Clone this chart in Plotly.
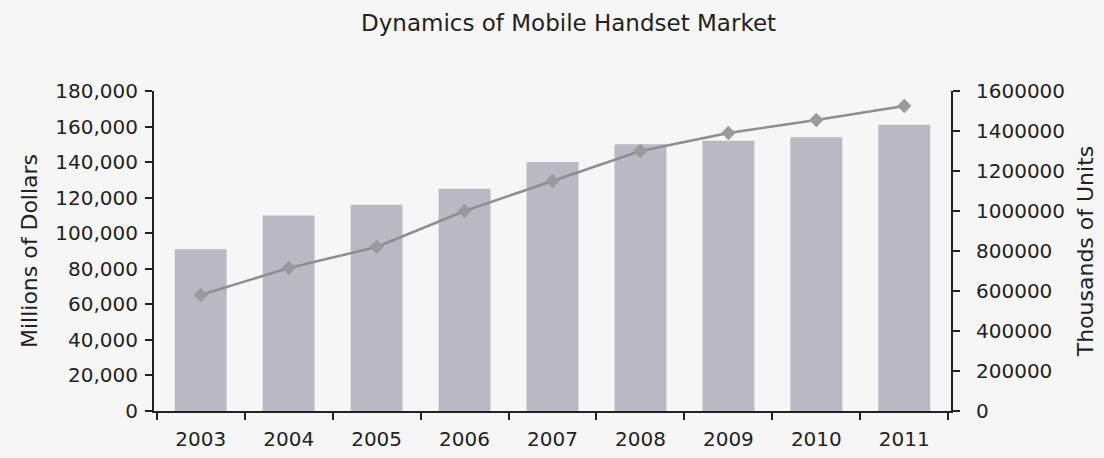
import plotly.graph_objects as go

# Mobile handset market, 2003-2011
years = ["2003", "2004", "2005", "2006", "2007", "2008", "2009", "2010", "2011"]
revenue_musd = [91000, 110000, 116000, 125000, 140000, 150000, 152000, 154000, 161000]
units_thousands = [580000, 715000, 820000, 1000000, 1150000, 1300000, 1390000, 1455000, 1525000]

FONT = "DejaVu Sans"
INK = "#222222"

fig = go.Figure()

fig.add_trace(go.Bar(
    x=years,
    y=revenue_musd,
    name="Revenue",
    marker=dict(color="#bab9c3", line=dict(width=0)),
    yaxis="y",
))

fig.add_trace(go.Scatter(
    x=years,
    y=units_thousands,
    name="Units",
    mode="lines+markers",
    line=dict(color="#8e8e8e", width=2.5),
    marker=dict(symbol="diamond", size=11, color="#9a9a9a"),
    yaxis="y2",
))

fig.update_layout(
    width=1104,
    height=458,
    margin=dict(l=154, r=153, t=91, b=47, autoexpand=False),
    paper_bgcolor="#f7f6f6",
    plot_bgcolor="rgba(0,0,0,0)",
    showlegend=False,
    bargap=0.41,
    title=dict(
        text="Dynamics of Mobile Handset Market",
        x=0.515, xanchor="center",
        y=1 - 23 / 458, yanchor="middle",
        font=dict(family=FONT, size=23, color=INK),
    ),
    font=dict(family=FONT, color=INK),
    xaxis=dict(
        type="category",
        automargin=False,
        tickson="boundaries",
        ticks="outside",
        ticklen=7,
        tickwidth=2,
        tickcolor=INK,
        showline=True,
        linecolor=INK,
        linewidth=2,
        showgrid=False,
        ticklabelstandoff=9,
        tickfont=dict(size=20, color=INK),
    ),
    yaxis=dict(
        automargin=False,
        range=[0, 180000],
        dtick=20000,
        tickformat=",d",
        ticks="outside",
        ticklen=7,
        tickwidth=2,
        tickcolor=INK,
        showline=True,
        linecolor=INK,
        linewidth=2,
        showgrid=False,
        zeroline=False,
        ticklabelstandoff=3,
        tickfont=dict(size=20, color=INK),
        title=dict(text="Millions of Dollars", font=dict(size=22, color=INK), standoff=12),
    ),
    yaxis2=dict(
        automargin=False,
        overlaying="y",
        side="right",
        range=[0, 1600000],
        dtick=200000,
        tickformat="d",
        ticks="outside",
        ticklen=7,
        tickwidth=2,
        tickcolor=INK,
        showline=True,
        linecolor=INK,
        linewidth=2,
        showgrid=False,
        zeroline=False,
        ticklabelstandoff=12,
        tickfont=dict(size=20, color=INK),
        title=dict(text="Thousands of Units", font=dict(size=22, color=INK), standoff=14),
    ),
)

fig.write_html("out.html")
